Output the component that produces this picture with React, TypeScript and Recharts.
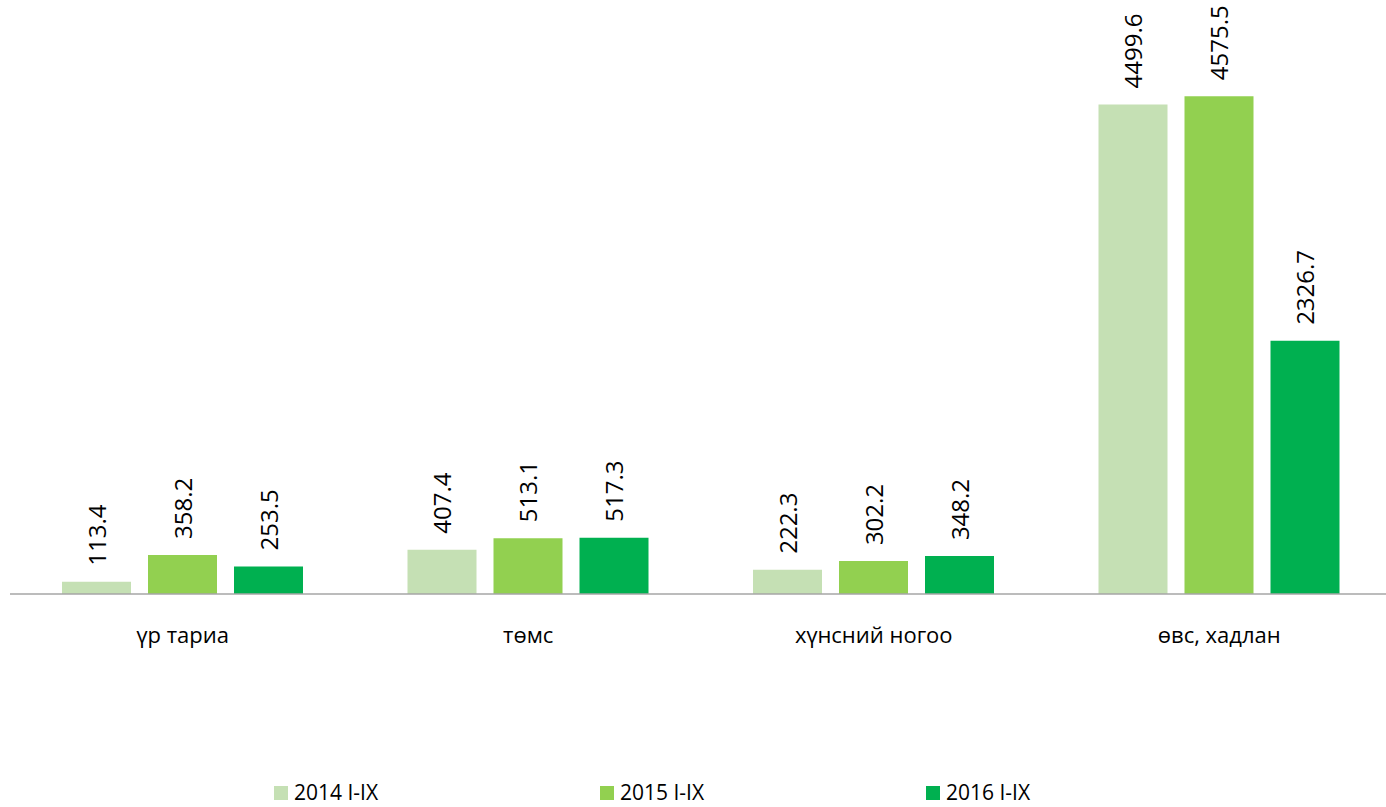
import React from "react";
import { Bar, BarChart, LabelList, Legend, XAxis, YAxis } from "recharts";

const categories = ["үр тариа", "төмс", "хүнсний ногоо", "өвс, хадлан"];
const series2014 = [113.4, 407.4, 222.3, 4499.6];
const series2015 = [358.2, 513.1, 302.2, 4575.5];
const series2016 = [253.5, 517.3, 348.2, 2326.7];
const seriesNames = ["2014 I-IX", "2015 I-IX", "2016 I-IX"];
const seriesColors = ["#C5E0B4", "#92D050", "#00B050"];

const data = categories.map((name, i) => ({
  name,
  y2014: series2014[i],
  y2015: series2015[i],
  y2016: series2016[i],
}));

const FONT = "'Open Sans', sans-serif";

function RotatedLabel(props: any) {
  const { x, y, width, value } = props;
  const cx = x + width / 2;
  const ty = y - 16;
  return (
    <text
      x={cx}
      y={ty}
      transform={`rotate(-90, ${cx}, ${ty})`}
      textAnchor="start"
      dominantBaseline="central"
      fontSize={24}
      fontFamily={FONT}
      fill="#000"
    >
      {Number(value).toFixed(1)}
    </text>
  );
}

function CategoryTick({ x, y, payload }: any) {
  return (
    <text x={x} y={y + 41} textAnchor="middle" fontSize={22} fontFamily={FONT} fill="#000">
      {payload.value}
    </text>
  );
}

function LegendContent() {
  return (
    <div style={{ position: "relative", width: 1386, height: 28, fontFamily: FONT, fontSize: 21 }}>
      {seriesNames.map((n, i) => (
        <div
          key={n}
          style={{ position: "absolute", left: 274 + i * 326, top: 0, display: "flex", alignItems: "center", lineHeight: "28px" }}
        >
          <span style={{ display: "inline-block", width: 14, height: 14, background: seriesColors[i], marginRight: 6, marginTop: 2 }} />
          <span>{n}</span>
        </div>
      ))}
    </div>
  );
}

export default function App() {
  return (
    <div style={{ position: "absolute", left: 0, top: 0, width: 1386, height: 807, overflow: "hidden", background: "#fff" }}>
      <BarChart
        width={1392}
        height={807}
        data={data}
        margin={{ top: 50, right: 0, left: 10, bottom: 125 }}
        barSize={69}
        barGap={17}
      >
        <XAxis
          dataKey="name"
          height={60}
          tickLine={false}
          axisLine={{ stroke: "#A6A6A6", strokeWidth: 1.5 }}
          tick={<CategoryTick />}
          interval={0}
        />
        <YAxis hide domain={[0, 5000]} />
        <Legend
          layout="vertical"
          align="center"
          verticalAlign="bottom"
          content={<LegendContent />}
          wrapperStyle={{ top: 778, left: 0, width: 1386, bottom: "auto" }}
        />
        <Bar dataKey="y2014" name={seriesNames[0]} fill={seriesColors[0]} isAnimationActive={false}>
          <LabelList dataKey="y2014" content={<RotatedLabel />} />
        </Bar>
        <Bar dataKey="y2015" name={seriesNames[1]} fill={seriesColors[1]} isAnimationActive={false}>
          <LabelList dataKey="y2015" content={<RotatedLabel />} />
        </Bar>
        <Bar dataKey="y2016" name={seriesNames[2]} fill={seriesColors[2]} isAnimationActive={false}>
          <LabelList dataKey="y2016" content={<RotatedLabel />} />
        </Bar>
      </BarChart>
    </div>
  );
}
